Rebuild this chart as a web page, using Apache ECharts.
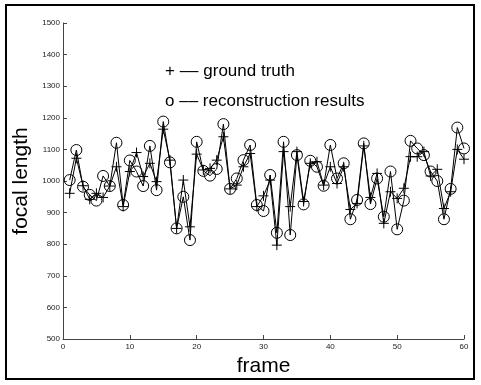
<!DOCTYPE html>
<html>
<head>
<meta charset="utf-8">
<script src="https://cdn.jsdelivr.net/npm/echarts@6/dist/echarts.min.js"></script>
<style>
  html, body { margin: 0; padding: 0; background: #fff; }
  #chart { width: 481px; height: 385px; }
</style>
</head>
<body>
<div id="chart"></div>
<script>
const frames = Array.from({ length: 60 }, (_, i) => i + 1)
const groundTruth = [
  961, 1072, 985, 942, 961, 948, 984, 1045, 919, 1030,
  1090, 1014, 1056, 998, 1164, 1066, 850, 1003, 855, 1085,
  1035, 1040, 1066, 1140, 975, 987, 1045, 1087, 919, 953,
  1003, 797, 1093, 919, 1093, 935, 1056, 1061, 987, 1045,
  992, 1045, 910, 929, 1111, 948, 1024, 866, 966, 945,
  977, 1077, 1077, 1093, 1016, 1037, 913, 966, 1100, 1069,
]
const reconstruction = [
  1003, 1098, 982, 956, 938, 1016, 984, 1121, 924, 1065,
  1030, 984, 1111, 971, 1188, 1059, 850, 950, 813, 1124,
  1032, 1017, 1038, 1180, 975, 1008, 1066, 1114, 924, 905,
  1019, 836, 1124, 829, 1082, 926, 1064, 1045, 985, 1114,
  1008, 1056, 879, 940, 1119, 927, 1008, 887, 1030, 847,
  938, 1127, 1103, 1082, 1030, 1000, 879, 975, 1169, 1103,
]
const xTicks = [0, 10, 20, 30, 40, 50, 60]
const yTicks = [500, 600, 700, 800, 900, 1000, 1100, 1200, 1300, 1400, 1500]

const font = 'Liberation Sans, Arial, sans-serif'
const plusPath = 'path://M0,5 L10,5 M5,0 L5,10'

const chart = echarts.init(document.getElementById('chart'))
const option = {
  animation: false,
  textStyle: { fontFamily: font },
  grid: { left: 63, right: 17, top: 23, bottom: 46 },
  xAxis: {
    type: 'value',
    min: xTicks[0],
    max: xTicks[xTicks.length - 1],
    interval: 10,
    name: 'frame',
    nameLocation: 'middle',
    nameGap: 16,
    nameTextStyle: { fontSize: 21, color: '#000', fontFamily: font },
    axisLine: { lineStyle: { color: '#444', width: 1 } },
    axisTick: { inside: true, length: 4, lineStyle: { color: '#444' } },
    axisLabel: { fontSize: 8, color: '#222', margin: 4, formatter: (v) => String(v) },
    splitLine: { show: false },
  },
  yAxis: {
    type: 'value',
    min: yTicks[0],
    max: yTicks[yTicks.length - 1],
    interval: 100,
    name: 'focal length',
    nameLocation: 'middle',
    nameGap: 23,
    nameTextStyle: { fontSize: 21, color: '#000', fontFamily: font },
    axisLine: { show: true, lineStyle: { color: '#444', width: 1 } },
    axisTick: { show: true, inside: true, length: 4, lineStyle: { color: '#444' } },
    axisLabel: { fontSize: 8, color: '#222', margin: 3, formatter: (v) => String(v) },
    splitLine: { show: false },
  },
  graphic: [
    {
      type: 'rect',
      shape: { x: 6, y: 5, width: 468, height: 374 },
      style: { fill: 'none', stroke: '#000', lineWidth: 2 },
      z: 100,
    },
    {
      type: 'text',
      left: 165,
      top: 63,
      style: { text: '+ –– ground truth', font: '17px ' + font, fill: '#000' },
    },
    {
      type: 'text',
      left: 165,
      top: 93,
      style: { text: 'o –– reconstruction results', font: '17px ' + font, fill: '#000' },
    },
  ],
  series: [
    {
      name: 'ground truth',
      type: 'line',
      data: frames.map((f, i) => [f, groundTruth[i]]),
      symbol: plusPath,
      symbolSize: 10,
      showAllSymbol: true,
      lineStyle: { color: '#000', width: 1 },
      itemStyle: { color: 'none', borderColor: '#000', borderWidth: 1 },
    },
    {
      name: 'reconstruction results',
      type: 'line',
      data: frames.map((f, i) => [f, reconstruction[i]]),
      symbol: 'circle',
      symbolSize: 11,
      showAllSymbol: true,
      lineStyle: { color: '#000', width: 1 },
      itemStyle: { color: 'rgba(0,0,0,0)', borderColor: '#000', borderWidth: 1 },
    },
  ],
}
chart.setOption(option)
</script>
</body>
</html>
